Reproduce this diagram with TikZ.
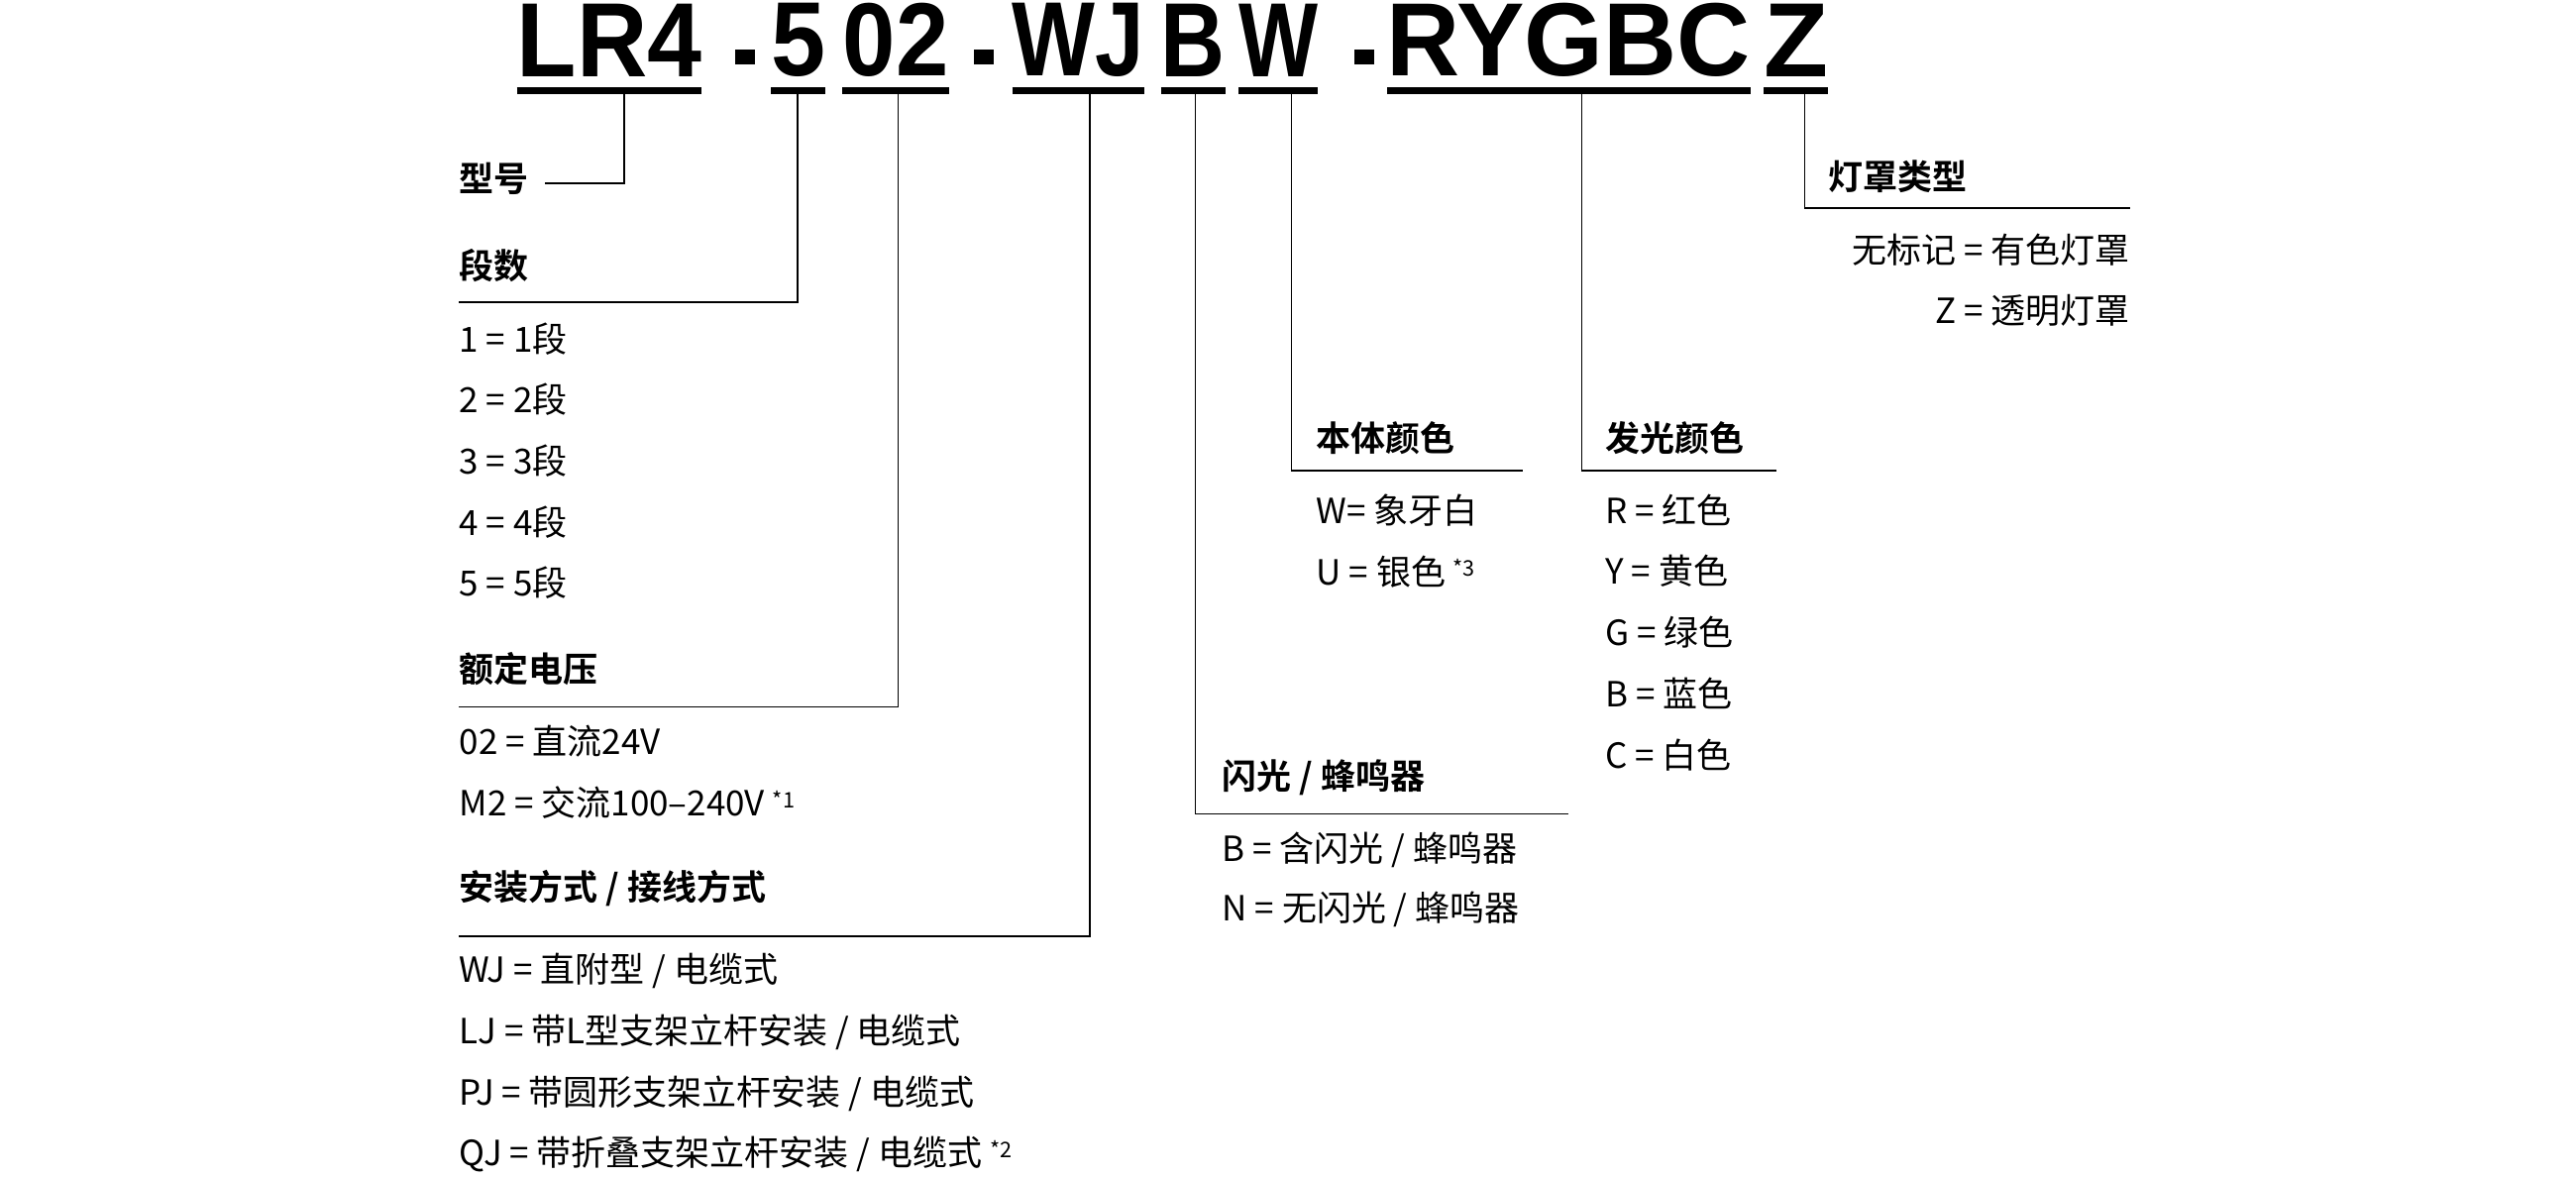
\documentclass[tikz,border=0pt]{standalone}
\usepackage{fontspec}
\setmainfont{Noto Sans CJK SC}[BoldFont={Noto Sans CJK SC Bold}]
\newfontfamily\titlefont{Liberation Sans}
\begin{document}
\begin{tikzpicture}[x=1pt,y=-1pt,
  lbl/.style={anchor=west,inner sep=0pt,font=\fontsize{21}{21}\selectfont},
  hdr/.style={anchor=west,inner sep=0pt,font=\fontsize{21}{21}\selectfont\bfseries},
  ul/.style={line width=4pt},
  ln/.style={line width=0.9pt},
  ttl/.style={anchor=south,inner sep=0pt}]
\useasboundingbox (0,0) rectangle (1560,714);
\newcommand\mytitle[4]{\node[ttl] (#1) at (#2,47) {\resizebox{#3pt}{44pt}{\titlefont\bfseries #4}};}
\mytitle{t1}{369}{112}{LR4}
\mytitle{t2}{483.5}{33}{5}
\mytitle{t3}{542.5}{64}{02}
\mytitle{t4}{653}{80}{WJ}
\mytitle{t5}{722.5}{39}{B}
\mytitle{t6}{774}{48}{W}
\mytitle{t7}{950}{220}{RYGBC}
\mytitle{t8}{1087.5}{39}{Z}
\foreach \x in {451,596,826} \fill (\x-6,30) rectangle (\x+6,39);
\draw[ul] (313,55)--(425,55) (467,55)--(500,55) (510,55)--(575,55) (613,55)--(693,55)
 (703,55)--(742,55) (750,55)--(798,55) (840,55)--(1060,55) (1068,55)--(1107,55);
% model
\node[hdr] (h1) at (278,108) {型号};
\draw[ln] (378,57)--(378,111)--(330,111);
% segments
\node[hdr] (h2) at (278,161) {段数};
\draw[ln] (483,57)--(483,183)--(278,183);
\foreach \i/\y in {1/205,2/242,3/279,4/316,5/353} \node[lbl] at (278,\y) {{\i} = {\i}段};
% voltage
\node[hdr] (h3) at (278,405) {额定电压};
\draw[ln] (544,57)--(544,428)--(278,428);
\node[lbl] at (278,449) {02 = 直流24V};
\node[lbl] at (278,486) {M2 = 交流100–240V {\fontsize{13}{13}\selectfont\raisebox{5pt}{*1}}};
% mounting
\node[hdr] (h4) at (278,538) {安装方式 / 接线方式};
\draw[ln] (660,57)--(660,567)--(278,567);
\node[lbl] at (278,588) {WJ = 直附型 / 电缆式};
\node[lbl] at (278,625) {LJ = 带L型支架立杆安装 / 电缆式};
\node[lbl] at (278,662) {PJ = 带圆形支架立杆安装 / 电缆式};
\node[lbl] at (278,699) {QJ = 带折叠支架立杆安装 / 电缆式 {\fontsize{13}{13}\selectfont\raisebox{5pt}{*2}}};
% flash
\node[hdr] (h5) at (740,471) {闪光 / 蜂鸣器};
\draw[ln] (724,57)--(724,493)--(950,493);
\node[lbl] at (740,515) {B = 含闪光 / 蜂鸣器};
\node[lbl] at (740,551) {N = 无闪光 / 蜂鸣器};
% body colour
\node[hdr] (h6) at (797,265) {本体颜色};
\draw[ln] (782,57)--(782,285)--(922,285);
\node[lbl] at (797,309) {W= 象牙白};
\node[lbl] at (797,346) {U = 银色 {\fontsize{13}{13}\selectfont\raisebox{5pt}{*3}}};
% light colour
\node[hdr] (h7) at (972,265) {发光颜色};
\draw[ln] (958,57)--(958,285)--(1076,285);
\node[lbl] at (972,309) {R = 红色};
\node[lbl] at (972,346) {Y = 黄色};
\node[lbl] at (972,383) {G = 绿色};
\node[lbl] at (972,420) {B = 蓝色};
\node[lbl] at (972,457) {C = 白色};
% cover
\node[hdr] (h8) at (1107,107) {灯罩类型};
\draw[ln] (1093,57)--(1093,126)--(1290,126);
\node[lbl,anchor=east] at (1290,151) {无标记 = 有色灯罩};
\node[lbl,anchor=east] at (1290,188) {Z = 透明灯罩};
\end{tikzpicture}
\end{document}
